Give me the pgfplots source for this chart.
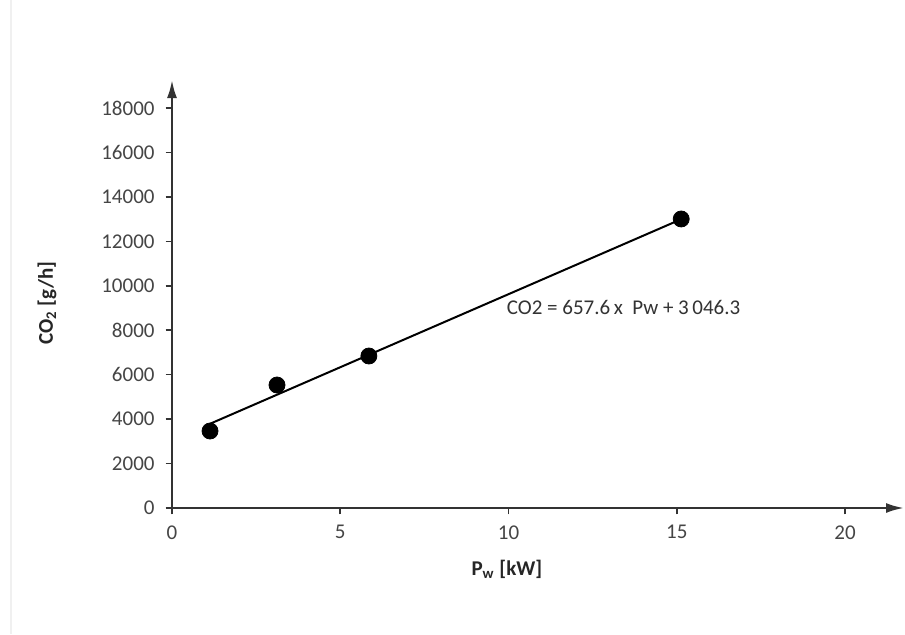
\documentclass[border=0pt]{standalone}
\usepackage{fontspec}
\setmainfont{Carlito}
\usepackage{pgfplots}
\pgfplotsset{compat=1.18}
\usetikzlibrary{arrows.meta}
\definecolor{axgray}{HTML}{333333}
\definecolor{tkgray}{HTML}{454545}
\begin{document}
\begin{tikzpicture}[x=0.5pt,y=0.5pt]
\path[use as bounding box] (0,0) rectangle (905,634);
\fill[white] (0,0) rectangle (905,634);
\draw[black!6, line width=0.8pt] (11,0) -- (11,634);
\begin{axis}[
  at={(172pt*0.5,126pt*0.5)}, anchor=south west,
  scale only axis,
  width=366pt, height=214pt,
  xmin=0, xmax=21.75, ymin=0, ymax=19260,
  axis lines=left,
  axis line style={axgray, line width=1.2pt, -{Latex[length=9pt,width=5pt]}},
  xtick={0,5,10,15,20},
  ytick={0,2000,4000,6000,8000,10000,12000,14000,16000,18000},
  scaled y ticks=false,
  tick align=outside,
  major tick length=3.2pt,
  tick style={axgray, line width=0.8pt},
  /pgf/number format/assume math mode=true,
  /pgf/number format/1000 sep={},
  ticklabel style={font=\fontsize{10.5}{12}\selectfont, text=tkgray},
  yticklabel style={xshift=-2pt},
  xticklabel style={yshift=-2pt},
  clip=false,
]
\addplot[black, line width=1pt, no marks] coordinates {(1.13,3790) (15.13,12996)};
\addplot[only marks, mark=*, mark size=4pt, black] coordinates {
  (1.13,3465) (3.12,5535) (5.85,6840) (15.13,13006)};
\node[anchor=west, text=axgray, font=\fontsize{10.5}{12}\selectfont, inner sep=0pt] at (axis cs:9.94,9045) {CO2 = 657.6\,x\ \ Pw + 3\,046.3};
\node[yshift=-30.5pt, font=\bfseries\fontsize{10.5}{12}\selectfont, text=black!85] at (axis cs:9.95,0) {P\textsubscript{w} [kW]};
\node[xshift=-62.5pt, rotate=90, font=\bfseries\fontsize{10.5}{12}\selectfont, text=black!85] at (axis cs:0,9225) {CO\textsubscript{2} [g/h]};
\end{axis}
\end{tikzpicture}
\end{document}
